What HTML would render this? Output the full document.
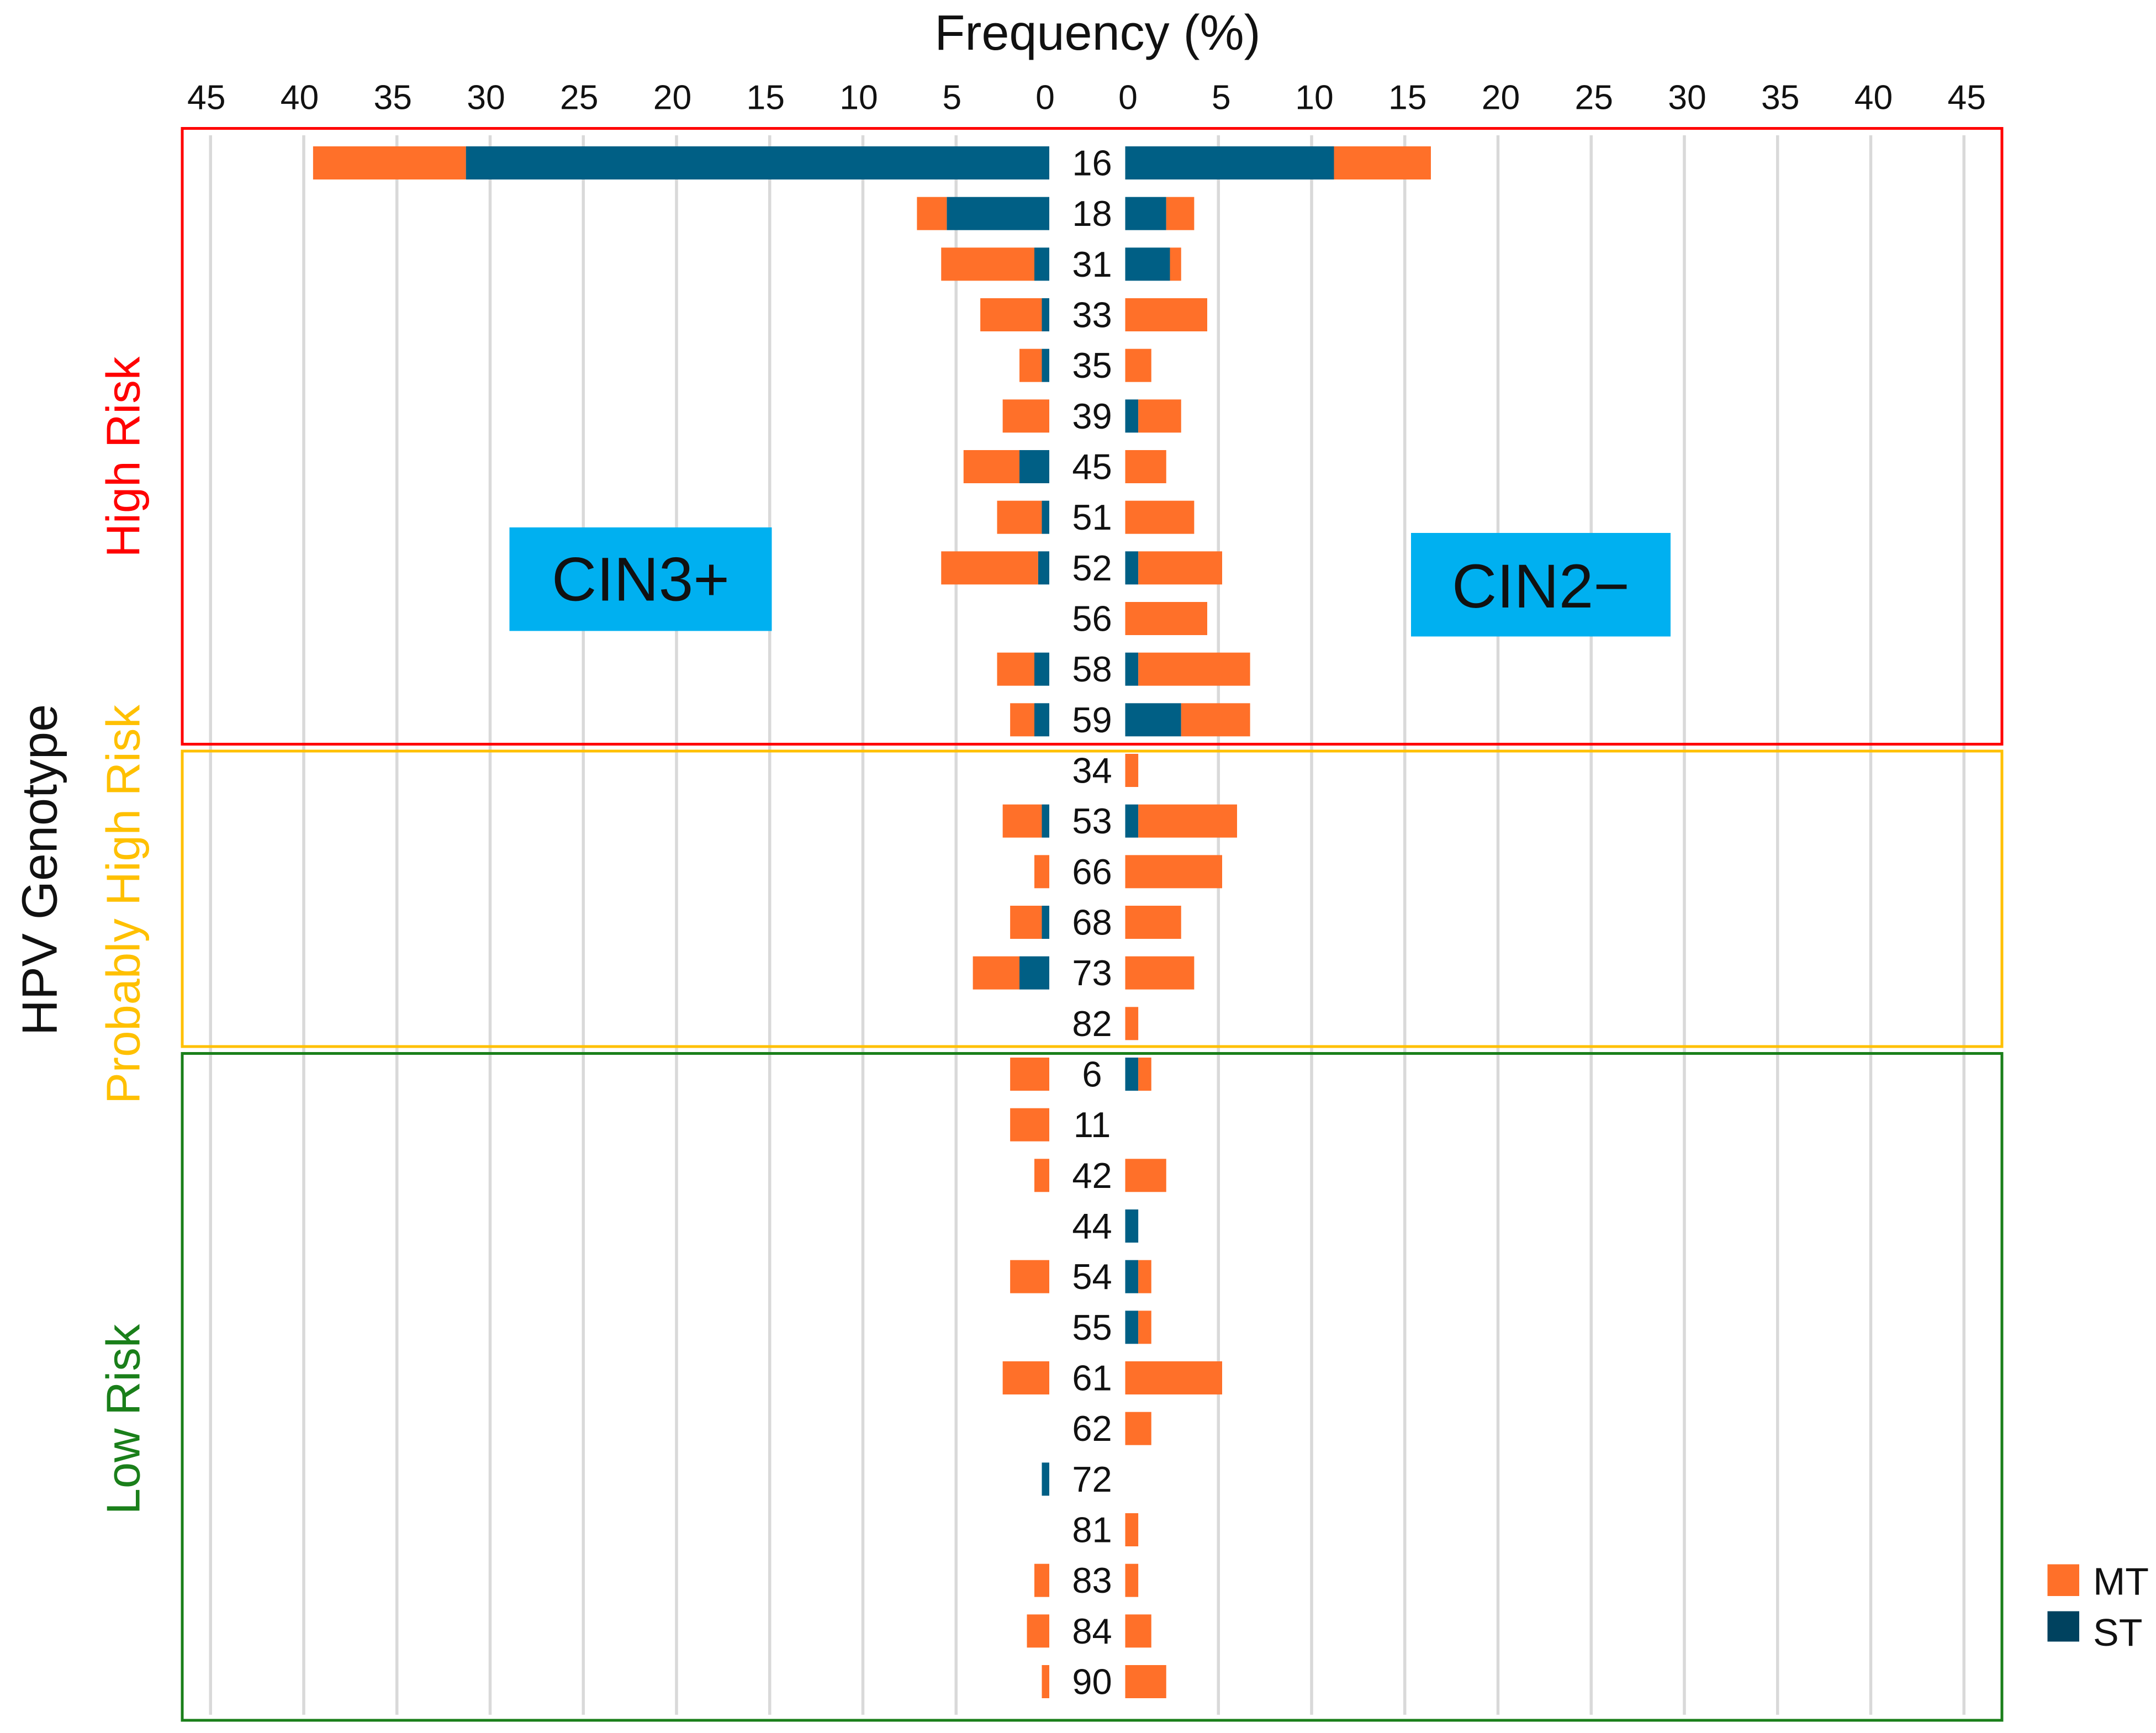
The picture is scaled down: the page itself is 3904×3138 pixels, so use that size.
<!DOCTYPE html>
<html><head><meta charset="utf-8">
<style>
html,body{margin:0;padding:0;background:#fff;}
svg{display:block;}
text{font-family:"Liberation Sans",sans-serif;}
</style></head>
<body>
<svg id="chart" width="3904" height="3138" viewBox="0 0 1561.6 1255.2" xmlns="http://www.w3.org/2000/svg">
<rect x="0" y="0" width="1561.6" height="1255.2" fill="#fff"/>
<g id="grid"></g>
<g id="ticks"></g>
<text x="795" y="36" font-size="36" text-anchor="middle" fill="#111">Frequency (%)</text>
<rect x="132" y="93" width="1318" height="446" fill="none" stroke="#ff0000" stroke-width="2"/>
<rect x="132" y="544" width="1318" height="214" fill="none" stroke="#ffc000" stroke-width="2"/>
<rect x="132" y="763" width="1318" height="483" fill="none" stroke="#1a7f1a" stroke-width="2"/>
<g id="bars"></g>
<g id="cats"></g>
<rect x="369" y="382" width="190" height="75" fill="#00b0f0"/>
<text x="464" y="435" font-size="45" text-anchor="middle" fill="#111">CIN3+</text>
<rect x="1022" y="386" width="188" height="75" fill="#00b0f0"/>
<text x="1116" y="440" font-size="45" text-anchor="middle" fill="#111">CIN2−</text>
<text transform="translate(101,331) rotate(-90)" font-size="34" text-anchor="middle" fill="#ff0000">High Risk</text>
<text transform="translate(101,655) rotate(-90)" font-size="34" text-anchor="middle" fill="#ffc000">Probably High Risk</text>
<text transform="translate(101,1028) rotate(-90)" font-size="34" text-anchor="middle" fill="#1a7f1a">Low Risk</text>
<text transform="translate(41,630) rotate(-90)" font-size="36" text-anchor="middle" fill="#111">HPV Genotype</text>
<rect x="1483" y="1133" width="23" height="23" fill="#ff7029"/>
<text x="1516" y="1155" font-size="28" fill="#111">MT</text>
<rect x="1483" y="1167" width="23" height="22" fill="#00425f"/>
<text x="1516" y="1192" font-size="28" fill="#111">ST</text>
</svg>
<script>
const categories = ["16","18","31","33","35","39","45","51","52","56","58","59","34","53","66","68","73","82","6","11","42","44","54","55","61","62","72","81","83","84","90"];
const cin3ST = [31.3,5.5,0.8,0.4,0.4,0,1.6,0.4,0.6,0,0.8,0.8,0,0.4,0,0.4,1.6,0,0,0,0,0,0,0,0,0,0.4,0,0,0,0];
const cin3MT = [8.2,1.6,5.0,3.3,1.2,2.5,3.0,2.4,5.2,0,2.0,1.3,0,2.1,0.8,1.7,2.5,0,2.1,2.1,0.8,0,2.1,0,2.5,0,0,0,0.8,1.2,0.4];
const cin2ST = [11.2,2.2,2.4,0,0,0.7,0,0,0.7,0,0.7,3.0,0,0.7,0,0,0,0,0.7,0,0,0.7,0.7,0.7,0,0,0,0,0,0,0];
const cin2MT = [5.2,1.5,0.6,4.4,1.4,2.3,2.2,3.7,4.5,4.4,6.0,3.7,0.7,5.3,5.2,3.0,3.7,0.7,0.7,0,2.2,0,0.7,0.7,5.2,1.4,0,0.7,0.7,1.4,2.2];
const tickValues = [45,40,35,30,25,20,15,10,5,0];

const NS="http://www.w3.org/2000/svg";
const unit=13.5;
function xL(v){return 760 - v*unit;}
function xR(v){return 815 + v*unit;}
function yRow(i){return 118 + i*(1100/30);}
function mk(tag,attrs,parent){const e=document.createElementNS(NS,tag);for(const k in attrs)e.setAttribute(k,attrs[k]);parent.appendChild(e);return e;}

const grid=document.getElementById('grid'),ticks=document.getElementById('ticks'),bars=document.getElementById('bars'),cats=document.getElementById('cats');
tickValues.forEach(v=>{
  if(v>0){
    const g1=mk('line',{x1:xL(v),x2:xL(v),y1:98,y2:1242,stroke:'#d9d9d9','stroke-width':2.2},grid);
    
    
    const g2=mk('line',{x1:xR(v),x2:xR(v),y1:98,y2:1242,stroke:'#d9d9d9','stroke-width':2.2},grid);
    
    
  }
  const t1=mk('text',{x:xL(v)-3,y:79,'font-size':25,'text-anchor':'middle',fill:'#111'},ticks);
  t1.textContent=v;
  
  
  const t2=mk('text',{x:xR(v)+2,y:79,'font-size':25,'text-anchor':'middle',fill:'#111'},ticks);
  t2.textContent=v;
  
  
});
const H=24;
categories.forEach((c,i)=>{
  const y=yRow(i)-H/2;
  if(cin3ST[i]>0){const r=mk('rect',{x:xL(cin3ST[i]),y:y,width:cin3ST[i]*unit,height:H,fill:'#005f85'},bars);
    
    }
  if(cin3MT[i]>0){const r=mk('rect',{x:xL(cin3ST[i]+cin3MT[i]),y:y,width:cin3MT[i]*unit,height:H,fill:'#ff7029'},bars);
    
    }
  if(cin2ST[i]>0){const r=mk('rect',{x:xR(0),y:y,width:cin2ST[i]*unit,height:H,fill:'#005f85'},bars);
    
    }
  if(cin2MT[i]>0){const r=mk('rect',{x:xR(cin2ST[i]),y:y,width:cin2MT[i]*unit,height:H,fill:'#ff7029'},bars);
    
    }
  const t=mk('text',{x:791,y:yRow(i)+9,'font-size':26,'text-anchor':'middle',fill:'#111'},cats);
  t.textContent=c;
  
  
});
</script>
</body></html>
